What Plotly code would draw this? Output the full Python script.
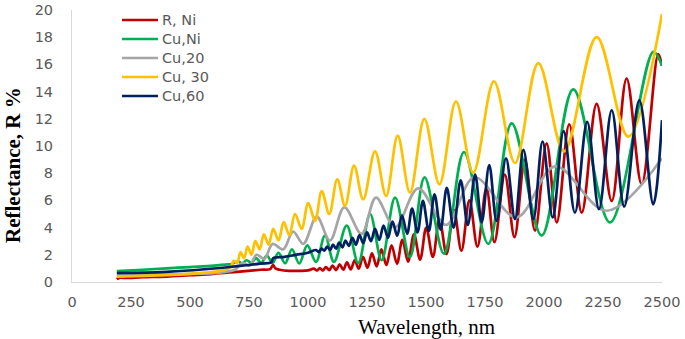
import plotly.graph_objects as go

# ---- data (wavelength nm, reflectance %) ----
wl_rni = [190, 200, 230, 300, 400, 500, 600, 700, 800, 840, 852, 862, 880, 920, 960, 1000,
          1025, 1038, 1050, 1063, 1076, 1090, 1104, 1119, 1134, 1150, 1165, 1181, 1198, 1215,
          1233, 1252, 1271, 1291, 1311, 1332, 1354, 1377, 1400, 1424, 1449, 1475, 1501, 1529,
          1557, 1587, 1618, 1650, 1684, 1718, 1756, 1790, 1834, 1875, 1919, 1962, 2011, 2054,
          2107, 2160, 2223, 2287, 2350, 2414, 2484, 2500]
r_rni = [0.2, 0.3, 0.3, 0.35, 0.4, 0.5, 0.6, 0.75, 0.9, 0.95, 1.25, 1.0, 0.9, 0.82, 0.82, 0.85,
         0.98, 0.85, 1.02, 0.86, 1.1, 0.87, 1.2, 0.88, 1.3, 0.9, 1.45, 0.93, 1.6, 0.98,
         1.85, 1.05, 2.1, 1.15, 2.4, 1.25, 2.7, 1.35, 3.1, 1.5, 3.5, 1.65, 4.0, 1.85,
         4.6, 2.05, 5.3, 2.3, 6.0, 2.6, 6.9, 2.93, 7.9, 3.3, 9.0, 3.78, 10.2, 4.39,
         11.6, 5.1, 13.1, 5.96, 14.95, 7.18, 16.75, 15.9]

wl_cuni = [190, 300, 400, 500, 600, 660, 672, 704, 722, 740, 760, 780, 802, 825, 850, 875,
           903, 932, 963, 997, 1034, 1072, 1110, 1164, 1213, 1263, 1312, 1369, 1432, 1494,
           1576, 1661, 1764, 1863, 1990, 2124, 2280, 2463, 2500]
r_cuni = [0.8, 0.9, 1.0, 1.1, 1.2, 1.3, 1.3, 1.5, 1.35, 1.6, 1.4, 1.75, 1.4, 1.95, 1.4, 2.15,
          1.38, 2.4, 1.36, 2.69, 1.48, 3.42, 1.48, 4.15, 1.4, 5.0, 1.6, 6.2, 1.84, 7.7,
          2.09, 9.55, 2.81, 11.66, 3.42, 14.16, 4.39, 16.92, 15.9]

wl_cu20 = [190, 300, 400, 500, 600, 650, 690, 722, 752, 782, 815, 850, 895, 937, 980, 1037,
           1093, 1154, 1227, 1288, 1369, 1467, 1585, 1705, 1884, 2047, 2265, 2500]
r_cu20 = [0.45, 0.5, 0.55, 0.6, 0.65, 0.75, 0.9, 1.4, 1.2, 2.0, 1.7, 2.8, 2.4, 3.7, 2.81, 4.8,
          3.05, 5.48, 3.54, 6.2, 4.02, 6.89, 4.2, 7.7, 4.75, 8.5, 5.24, 9.1]

wl_cu30 = [190, 300, 400, 500, 600, 650, 672, 686, 700, 714, 729, 744, 760, 777, 795, 813,
           833, 853, 875, 897, 921, 945, 973, 1001, 1030, 1058, 1090, 1124, 1157, 1195, 1234,
           1284, 1331, 1380, 1432, 1493, 1557, 1627, 1700, 1788, 1877, 1976, 2085, 2223, 2357,
           2500]
r_cu30 = [0.4, 0.45, 0.5, 0.6, 0.75, 0.9, 1.1, 1.55, 1.4, 2.2, 1.75, 2.6, 2.0, 3.0, 2.4, 3.5,
          2.75, 3.9, 3.05, 4.4, 3.45, 5.0, 3.9, 5.8, 4.5, 6.69, 5.0, 7.54, 5.6, 8.56, 6.08,
          9.6, 6.33, 10.76, 6.57, 12.0, 7.18, 13.29, 8.02, 14.76, 8.75, 16.1, 9.6, 18.0, 10.69,
          19.7]

wl_cu60 = [190, 400, 640, 800, 845, 852, 900, 950, 1000, 1034, 1046, 1057, 1069, 1081, 1094,
           1106, 1119, 1132, 1146, 1159, 1173, 1188, 1203, 1218, 1234, 1250, 1267, 1284, 1302,
           1320, 1339, 1358, 1378, 1398, 1420, 1441, 1464, 1487, 1512, 1536, 1562, 1588, 1617,
           1647, 1677, 1708, 1736, 1768, 1799, 1839, 1877, 1913, 1955, 1994, 2037, 2083, 2131,
           2183, 2233, 2287, 2340, 2404, 2463, 2500]
r_cu60 = [0.65, 0.75, 1.05, 1.35, 1.45, 1.75, 1.85, 2.0, 2.15, 2.35, 2.2, 2.45, 2.3, 2.6, 2.35,
          2.75, 2.45, 2.9, 2.55, 3.05, 2.65, 3.25, 2.75, 3.45, 2.85, 3.65, 3.0, 3.9, 3.1,
          4.15, 3.25, 4.45, 3.4, 4.9, 3.55, 5.4, 3.65, 5.96, 3.75, 6.45, 3.85, 6.93, 4.0,
          7.47, 4.2, 7.9, 4.39, 8.6, 4.5, 9.1, 4.63, 9.72, 4.63, 10.33, 4.75, 11.1, 5.1,
          11.78, 5.36, 12.63, 5.55, 13.36, 5.72, 11.9]

names = ["R, Ni", "Cu,Ni", "Cu,20", "Cu, 30", "Cu,60"]
colors = ["#C00000", "#00B050", "#A5A5A5", "#FFC000", "#002060"]
xs = [wl_rni, wl_cuni, wl_cu20, wl_cu30, wl_cu60]
ys = [r_rni, r_cuni, r_cu20, r_cu30, r_cu60]

x_ticks = list(range(0, 2501, 250))
y_ticks = list(range(0, 21, 2))

fig = go.Figure()
for n, c, x, y in zip(names, colors, xs, ys):
    fig.add_trace(go.Scatter(x=x, y=y, mode="lines", name=n, showlegend=False,
                             line=dict(color=c, width=2.7, shape="spline", smoothing=1.0)))

# legend drawn as paper-anchored samples + real text labels
W, H = 685, 339
ML, MR, MT, MB = 72, 23, 10, 57
PW, PH = W - ML - MR, H - MT - MB
def px_x(p):
    return (p - ML) / PW
def px_y(p):
    return (H - MB - p) / PH

shapes = []
annotations = []
for i, (n, c) in enumerate(zip(names, colors)):
    row = 20 + 19 * i
    shapes.append(dict(type="line", xref="paper", yref="paper",
                       x0=px_x(122), x1=px_x(158), y0=px_y(row), y1=px_y(row),
                       line=dict(color=c, width=2.7)))
    annotations.append(dict(text=n, xref="paper", yref="paper", x=px_x(160), y=px_y(row),
                            xanchor="left", yanchor="middle", showarrow=False,
                            font=dict(family="DejaVu Sans", size=14.5, color="#595959")))

annotations.append(dict(text="Wavelength, nm", xref="paper", yref="paper",
                        x=px_x(426), y=px_y(327), xanchor="center", yanchor="middle",
                        showarrow=False,
                        font=dict(family="Liberation Serif", size=21, color="#000000")))
annotations.append(dict(text="<b>Reflectance, R %</b>", xref="paper", yref="paper",
                        x=px_x(13), y=px_y(165), xanchor="center", yanchor="middle",
                        showarrow=False, textangle=-90,
                        font=dict(family="Liberation Serif", size=21, color="#000000")))

tick_font = dict(family="DejaVu Sans", size=14.5, color="#595959")
fig.update_layout(
    width=W, height=H,
    margin=dict(l=ML, r=MR, t=MT, b=MB),
    paper_bgcolor="white", plot_bgcolor="white",
    showlegend=False,
    xaxis=dict(range=[0, 2500], tickvals=x_ticks, ticktext=[str(v) for v in x_ticks],
               showgrid=False, zeroline=False, showline=True, linecolor="#D9D9D9",
               linewidth=1, ticks="", tickfont=tick_font, ticklabelstandoff=7,
               automargin=False, ticklabeloverflow="allow"),
    yaxis=dict(range=[0, 20], tickvals=y_ticks, ticktext=[str(v) for v in y_ticks],
               showgrid=False, zeroline=False, showline=True, linecolor="#D9D9D9",
               linewidth=1, ticks="", tickfont=tick_font, ticklabelstandoff=15,
               automargin=False, ticklabeloverflow="allow"),
    shapes=shapes,
    annotations=annotations,
)

fig.write_html("out.html", config={"displayModeBar": False},
               post_script="document.body.style.margin='0';document.body.style.overflow='hidden';")
